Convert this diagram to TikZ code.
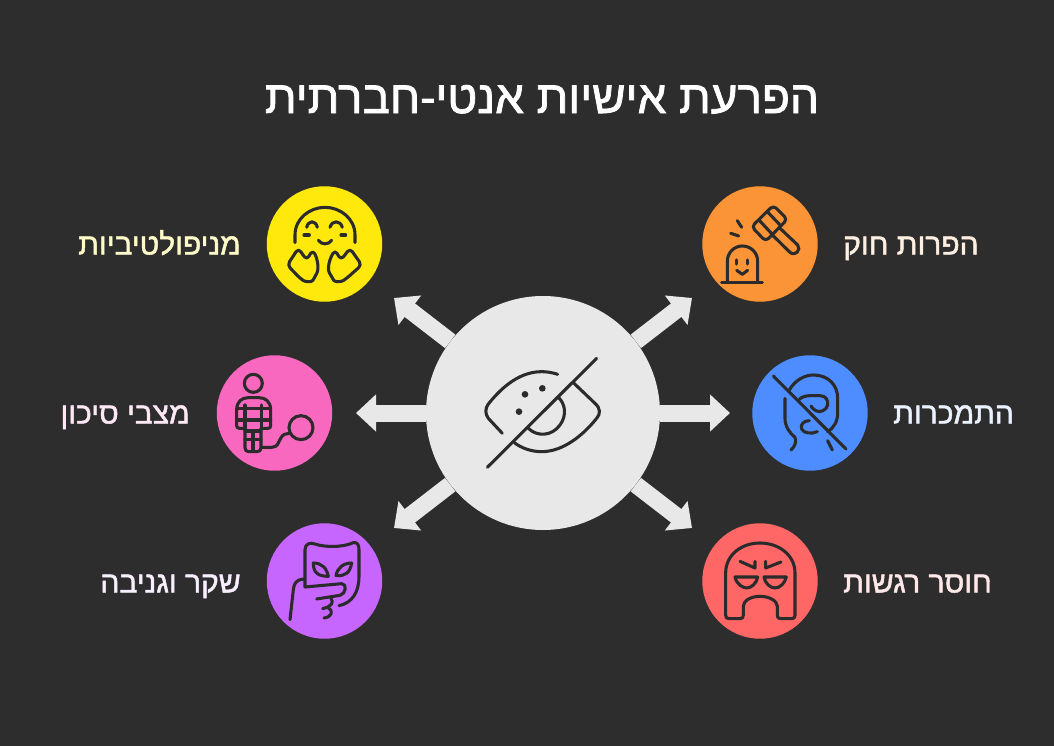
\documentclass[tikz,border=0pt]{standalone}
\usepackage{fontspec}
\usetikzlibrary{arrows.meta}
\TeXXeTstate=1
\newfontfamily\hebfont[Script=Hebrew,FakeBold=1.6]{Liberation Sans}
\newcommand{\heb}[1]{{\hebfont\beginR #1\endR}}
\definecolor{bgdark}{RGB}{45,45,45}
\definecolor{inkdark}{RGB}{43,43,43}
\definecolor{hubgray}{RGB}{232,232,232}
\definecolor{discyellow}{RGB}{255,233,13}
\definecolor{discorange}{RGB}{251,148,54}
\definecolor{discblue}{RGB}{77,141,255}
\definecolor{discred}{RGB}{255,102,102}
\definecolor{discpurple}{RGB}{199,102,255}
\definecolor{discpink}{RGB}{247,104,190}

\begin{document}
\begin{tikzpicture}[x=0.75pt,y=0.75pt,yscale=-1,xscale=1,
  disc/.style={circle,inner sep=0pt,minimum size=86.6pt},
  hubarrow/.style={draw=hubgray,line width=12.75pt,-{Triangle[length=15pt,width=27pt]}},
  icon/.style={draw=inkdark,line width=2.3pt,line cap=round,line join=round},
  labeltext/.style={inner sep=0pt,font=\fontsize{22.5}{27}\selectfont}]

%Background
\fill [bgdark] (0,0) rectangle (1054,746);
\useasboundingbox (0,0) rectangle (1054,746);

% Title
\draw (542,113) node (title) [white,anchor=base,inner sep=0pt,font=\fontsize{34.4}{40}\selectfont] {\heb{הפרעת אישיות אנטי-חברתית}};

%Hub and its arrows
\draw (543,413) node (hub) [circle,fill=hubgray,inner sep=0pt,minimum size=175.5pt] {};
\coordinate (tipnw) at (394,298);
\coordinate (tipne) at (692,298);
\coordinate (tipw) at (356,413);
\coordinate (tipe) at (730,413);
\coordinate (tipsw) at (394,528);
\coordinate (tipse) at (692,528);
\draw [hubarrow] (hub) -- (tipnw);
\draw [hubarrow] (hub) -- (tipne);
\draw [hubarrow] (hub) -- (tipw);
\draw [hubarrow] (hub) -- (tipe);
\draw [hubarrow] (hub) -- (tipsw);
\draw [hubarrow] (hub) -- (tipse);

%Discs
\draw (324.5,244) node (manip) [disc,fill=discyellow] {};
\draw (760,244) node (law) [disc,fill=discorange] {};
\draw (810,413) node (addict) [disc,fill=discblue] {};
\draw (760,581) node (numb) [disc,fill=discred] {};
\draw (324.5,581) node (lies) [disc,fill=discpurple] {};
\draw (274.5,413) node (risk) [disc,fill=discpink] {};

% Text Node
\draw (241,254.5) node (manipl) [labeltext,anchor=base east,color={rgb,255:red,255;green,251;blue,200}] {\heb{מניפולטיביות}};
% Text Node
\draw (190,423.5) node (riskl) [labeltext,anchor=base east,color={rgb,255:red,255;green,232;blue,246}] {\heb{מצבי סיכון}};
% Text Node
\draw (241,592.5) node (liesl) [labeltext,anchor=base east,color={rgb,255:red,249;green,238;blue,255}] {\heb{שקר וגניבה}};
% Text Node
\draw (843,254.5) node (lawl) [labeltext,anchor=base west,color={rgb,255:red,255;green,239;blue,224}] {\heb{הפרות חוק}};
% Text Node
\draw (893,423.5) node (addictl) [labeltext,anchor=base west,color={rgb,255:red,234;green,242;blue,255}] {\heb{התמכרות}};
% Text Node
\draw (843,592.5) node (numbl) [labeltext,anchor=base west,color={rgb,255:red,255;green,232;blue,232}] {\heb{חוסר רגשות}};

%Eye in the hub
\begin{scope}[shift={(470,340)},scale=0.3333]
\draw [icon] (52,382) -- (380,55);
\draw [icon] (97,280) -- (55,235) .. controls (45,222) and (45,205) .. (55,192) .. controls (85,155) and (140,95) .. (215,95) .. controls (232,95) and (248,98) .. (263,103);
\draw [icon] (310,128) -- (375,190) .. controls (392,205) and (392,222) .. (380,235) .. controls (340,285) and (280,335) .. (215,335) .. controls (185,335) and (155,325) .. (133,308);
\draw [icon] (265,172) .. controls (285,190) and (292,225) .. (270,255) .. controls (245,290) and (200,290) .. (175,265);
\fill [inkdark] (165,163) circle (10) (217,145) circle (10) (147,215) circle (10);
\end{scope}

%Hugging face
\begin{scope}[shift={(260,180)},scale=0.3333]
\draw [icon] (105,188) -- (105,165) .. controls (105,115) and (150,82) .. (195,82) .. controls (240,82) and (285,115) .. (285,165) -- (285,188);
\draw [icon] (140,142) .. controls (145,120) and (167,120) .. (172,142);
\draw [icon] (210,142) .. controls (216,120) and (241,120) .. (247,142);
\draw [icon] (132,165) -- (148,165) (243,165) -- (257,165);
\draw [icon] (175,181) .. controls (185,195) and (205,195) .. (215,181);
\draw [icon,rounded corners=3pt] (82,255) -- (115,205) -- (140,240) -- (158,210) .. controls (172,235) and (178,265) .. (165,290) .. controls (155,308) and (135,305) .. (120,295) -- cycle;
\draw [icon,rounded corners=3pt] (305,255) -- (270,205) -- (243,240) -- (225,210) .. controls (210,235) and (200,265) .. (215,290) .. controls (225,308) and (245,305) .. (260,295) -- cycle;
\end{scope}

%Gavel and tombstone
\begin{scope}[shift={(695,180)},scale=0.3333]
\draw [icon,rounded corners=3pt] (170,140) -- (235,76) -- (277,118) -- (212,184) -- cycle;
\draw [icon] (192,120) -- (232,163) (218,96) -- (258,138);
\draw [icon] (252,142) -- (308,195) .. controls (320,210) and (300,230) .. (285,217) -- (232,165);
\draw [icon] (127,122) -- (140,142) (107,160) -- (131,168);
\draw [icon] (97,303) -- (97,245) .. controls (97,215) and (120,198) .. (142,198) .. controls (165,198) and (188,215) .. (188,245) -- (188,303);
\draw [icon] (80,308) -- (202,308);
\draw [icon] (125,240) -- (125,252) (158,240) -- (158,252);
\draw [icon] (125,271) -- (142,283) -- (158,271);
\end{scope}

%Struck out face
\begin{scope}[shift={(745,350)},scale=0.3333]
\draw [icon] (85,78) -- (303,297);
\draw [icon] (133,120) .. controls (150,90) and (180,75) .. (205,75) .. controls (250,75) and (278,105) .. (278,145) -- (278,190) .. controls (278,215) and (265,235) .. (248,245);
\draw [icon] (120,145) -- (120,205) .. controls (120,230) and (135,250) .. (150,262) .. controls (155,275) and (150,290) .. (138,300);
\draw [icon] (248,272) -- (262,300);
\draw [icon] (163,148) .. controls (170,140) and (185,137) .. (195,137) -- (225,137) .. controls (242,137) and (250,150) .. (248,165) .. controls (245,180) and (225,190) .. (212,182) .. controls (205,178) and (200,172) .. (198,168);
\draw [icon] (193,212) .. controls (175,212) and (165,225) .. (170,237) .. controls (175,250) and (200,253) .. (217,245);
\end{scope}

%Angry face
\begin{scope}[shift={(695,518)},scale=0.3333]
\draw [icon] (92,290) -- (92,165) .. controls (92,110) and (140,75) .. (195,75) .. controls (250,75) and (300,110) .. (300,165) -- (300,292) .. controls (300,299) and (297,302) .. (290,302) -- (257,302) .. controls (250,302) and (247,299) .. (247,292) -- (247,265) .. controls (247,250) and (225,235) .. (195,235) .. controls (165,235) and (145,250) .. (145,265) -- (145,292) .. controls (145,299) and (142,302) .. (135,302) -- (102,302) .. controls (95,302) and (92,299) .. (92,292) -- cycle;
\draw [icon] (135,130) -- (180,150) -- (180,130);
\draw [icon] (258,132) -- (212,150) -- (212,130);
\draw [icon] (120,177) -- (188,177) .. controls (185,195) and (170,210) .. (155,210) .. controls (145,210) and (125,200) .. (120,177) -- cycle;
\draw [icon] (207,177) -- (274,177) .. controls (270,195) and (255,210) .. (240,210) .. controls (225,210) and (210,195) .. (207,177) -- cycle;
\end{scope}

%Mask and hand
\begin{scope}[shift={(260,518)},scale=0.3333]
\draw [icon] (135,207) -- (135,95) .. controls (135,78) and (150,72) .. (165,78) .. controls (190,87) and (245,90) .. (280,74) .. controls (292,72) and (297,80) .. (297,95) -- (297,175) .. controls (297,225) and (275,255) .. (237,263);
\draw [icon] (135,207) -- (245,197) .. controls (262,197) and (258,228) .. (240,232) -- (170,243);
\draw [icon] (213,240) .. controls (222,255) and (215,265) .. (188,272);
\draw [icon] (205,270) .. controls (222,280) and (215,297) .. (192,300);
\draw [icon] (130,183) .. controls (110,185) and (102,195) .. (100,215) -- (90,305);
\draw [icon] (160,135) .. controls (185,135) and (200,150) .. (205,175) .. controls (175,175) and (160,165) .. (160,135) -- cycle;
\draw [icon] (275,135) .. controls (250,135) and (232,150) .. (228,173) .. controls (255,175) and (270,165) .. (275,135) -- cycle;
\end{scope}

%Prisoner with ball and chain
\begin{scope}[shift={(210,350)},scale=0.3333]
\draw [icon] (130,100) circle (27);
\draw [icon] (105,235) -- (88,235) .. controls (83,235) and (80,232) .. (80,227) -- (80,180) .. controls (80,155) and (95,143) .. (115,143) -- (147,143) .. controls (167,143) and (182,155) .. (182,180) -- (182,227) .. controls (182,232) and (179,235) .. (174,235) -- (153,235);
\draw [icon] (105,235) -- (105,293) .. controls (105,301) and (109,305) .. (117,305) -- (141,305) .. controls (149,305) and (153,301) .. (153,293) -- (153,235);
\draw [icon] (105,165) -- (105,235) (155,165) -- (155,235);
\draw [icon] (80,176) -- (182,176) (80,210) -- (182,210) (105,243) -- (153,243) (105,268) -- (153,268);
\draw [icon] (129,243) -- (129,300);
\draw [icon] (155,292) -- (185,292) .. controls (205,292) and (205,275) .. (212,265) .. controls (218,253) and (228,250) .. (238,250);
\draw [icon] (273,233) circle (36);
\end{scope}

\end{tikzpicture}
\end{document}
